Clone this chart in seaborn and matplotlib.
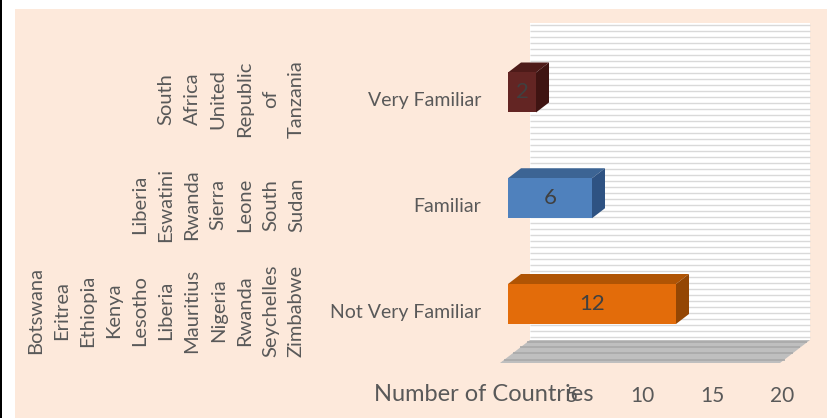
import numpy as np
import pandas as pd
import matplotlib
matplotlib.use("Agg")
import matplotlib.pyplot as plt
import seaborn as sns
from matplotlib.patches import Polygon
from matplotlib.transforms import ScaledTranslation, blended_transform_factory

# ---------------- data ----------------
categories = ["Very Familiar", "Familiar", "Not Very Familiar"]
counts = [2, 6, 12]
country_groups = [
    ["South", "Africa", "United", "Republic", "of", "Tanzania"],
    ["Liberia", "Eswatini", "Rwanda", "Sierra", "Leone", "South", "Sudan"],
    ["Botswana", "Eritrea", "Ethiopia", "Kenya", "Lesotho", "Liberia",
     "Mauritius", "Nigeria", "Rwanda", "Seychelles", "Zimbabwe"],
]
x_ticks = [5, 10, 15, 20]
x_title = "Number of Countries"

front_colors = ["#632523", "#4F81BD", "#E36C0A"]
top_colors = ["#4E1B19", "#3C6494", "#B05404"]
side_colors = ["#3F1412", "#2E5282", "#944603"]

BG = "#FDE9DB"
TXT = "#595959"
FONT = "Lato"

sns.set_theme(style="white")
plt.rcParams["font.family"] = [FONT, "DejaVu Sans"]

W, H = 827, 418
DPI = 100
fig = plt.figure(figsize=(W / DPI, H / DPI), dpi=DPI)
fig.patch.set_facecolor("white")

# page background pieces (peach card, black left edge)
fig.patches.append(plt.Rectangle((15 / W, 0), 1 - 15 / W, 1 - 9 / H, transform=fig.transFigure,
                                 facecolor=BG, edgecolor="none", zorder=-10))
fig.patches.append(plt.Rectangle((0, 0), 2 / W, 1, transform=fig.transFigure,
                                 facecolor="black", edgecolor="none", zorder=-10))

# axes: x=0 of bars' front face at px 508, 14 px per unit; top 23px, bottom 363px
ax_left, ax_w = 508, 280
ax_top, ax_bot = 23, 363
ax = fig.add_axes([ax_left / W, 1 - ax_bot / H, ax_w / W, (ax_bot - ax_top) / H])
ax.patch.set_alpha(0)

df = pd.DataFrame({"cat": categories, "n": counts})
sns.barplot(data=df, y="cat", x="n", hue="cat", palette=front_colors, order=categories,
            orient="h", width=0.378, legend=False, ax=ax, zorder=5, saturation=1,
            edgecolor="none", linewidth=0)

ax.set_xlim(0, 20)
ax.set_ylim(2.558, -0.657)
for s in ax.spines.values():
    s.set_visible(False)
ax.set_ylabel("")
fig.canvas.draw()

px = 72 / DPI  # points per pixel
def off(dx, dy):
    return ScaledTranslation(dx * px / 72, dy * px / 72, fig.dpi_scale_trans)

to_disp = ax.transData.transform
to_data = ax.transData.inverted().transform

# ---- back wall + floor ----
x0d, yb = to_disp((0, 2.558))
x20d = to_disp((20, 2.558))[0]
ytopd = to_disp((0, -0.657))[1]
DX_B, DX_F = 22, -8      # depth offsets of wall and floor front relative to bars' front
SLOPE = 23 / 30
wall_bottom = yb + (DX_B - DX_F) * SLOPE
wall = np.array([(x0d + DX_B, wall_bottom), (x20d + DX_B, wall_bottom),
                 (x20d + DX_B, ytopd), (x0d + DX_B, ytopd)])
ax.add_patch(Polygon(to_data(wall), closed=True, facecolor="white", edgecolor="none",
                     zorder=0, clip_on=False))
yy = wall_bottom + 3
while yy < ytopd - 1:
    seg = to_data(np.array([(x0d + DX_B, yy), (x20d + DX_B, yy)]))
    ax.plot(seg[:, 0], seg[:, 1], color="#D9D9D9", lw=1.4 * px, zorder=1, clip_on=False,
            solid_capstyle="butt")
    yy += 6.0

floor = np.array([(x0d + DX_F, yb), (x20d + DX_F, yb),
                  (x20d + DX_B, wall_bottom), (x0d + DX_B, wall_bottom)])
ax.add_patch(Polygon(to_data(floor), closed=True, facecolor="#BFBFBF", edgecolor="none",
                     zorder=1, clip_on=False))
for t in [0.15, 0.42, 0.68, 0.9]:
    d = DX_F + t * (DX_B - DX_F)
    y_ = yb + (d - DX_F) * SLOPE
    seg = to_data(np.array([(x0d + d, y_), (x20d + d, y_)]))
    ax.plot(seg[:, 0], seg[:, 1], color="#A8A8A8", lw=1.6 * px, zorder=2, clip_on=False,
            solid_capstyle="butt")

# ---- 3D faces of bars ----
BDX, BDY = 13, 10
bars = [p for p in ax.patches if p.get_zorder() == 5]
for p, ct, cs, val in zip(bars, top_colors, side_colors, counts):
    bx, by, bw, bh = p.get_x(), p.get_y(), p.get_width(), p.get_height()
    (a0, c0) = to_disp((bx, by))
    (a1, c1) = to_disp((bx + bw, by + bh))
    ylo, yhi = min(c0, c1), max(c0, c1)
    top = np.array([(a0, yhi), (a1, yhi), (a1 + BDX, yhi + BDY), (a0 + BDX, yhi + BDY)])
    side = np.array([(a1, ylo), (a1, yhi), (a1 + BDX, yhi + BDY), (a1 + BDX, ylo + BDY)])
    ax.add_patch(Polygon(to_data(top), closed=True, facecolor=ct, edgecolor="none", zorder=4))
    ax.add_patch(Polygon(to_data(side), closed=True, facecolor=cs, edgecolor="none", zorder=4))
    ax.text(bx + bw / 2, by + bh / 2, str(val), ha="center", va="center", fontsize=16,
            color="#404040", zorder=6)

# ---- ticks ----
ax.set_xticks(x_ticks)
ax.set_xticklabels([str(v) for v in x_ticks])
ax.tick_params(axis="x", length=0, pad=23 * px, labelsize=15, labelcolor=TXT)
for lab in ax.get_xticklabels():
    lab.set_transform(lab.get_transform() + off(-6, 0))
ax.tick_params(axis="y", length=0, pad=27 * px, labelsize=14, labelcolor=TXT)
for lab in ax.get_yticklabels():
    lab.set_transform(lab.get_transform() + off(0, -7))

ax.set_xlabel(x_title, fontsize=17, color=TXT)
ax.xaxis.set_label_coords(-0.086, -0.094)
ax.xaxis.label.set_va("center")

# ---- country lists (rotated) ----
bt = blended_transform_factory(fig.transFigure, ax.transData)
for i, grp in enumerate(country_groups):
    fig.text(305 / W, i, "\n".join(grp), rotation=90, ha="right", va="center",
             multialignment="center", fontsize=14.5, color=TXT, linespacing=1.65,
             transform=bt + off(0, -6.5))

fig.savefig("out.png", dpi=DPI, facecolor=fig.get_facecolor())
